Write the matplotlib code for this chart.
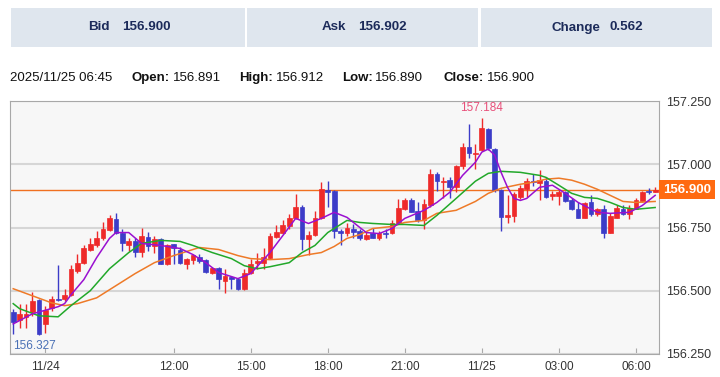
import numpy as np
import matplotlib.pyplot as plt
from matplotlib.patches import Rectangle

# ---------------------------
# DATA: 15-minute candles (bar index 0 .. 100), last bar = 2025/11/25 06:45
# ---------------------------
opens = [156.417, 156.385, 156.397, 156.417, 156.464, 156.369, 156.433, 156.468, 156.468, 156.484,
         156.580, 156.611, 156.663, 156.679, 156.707, 156.742, 156.782, 156.730, 156.679, 156.695,
         156.655, 156.714, 156.675, 156.703, 156.607, 156.683, 156.663, 156.607, 156.623, 156.635,
         156.623, 156.572, 156.591, 156.540, 156.556, 156.548, 156.508, 156.572, 156.611, 156.611,
         156.631, 156.714, 156.730, 156.754, 156.786, 156.833, 156.703, 156.722, 156.786, 156.897,
         156.893, 156.738, 156.730, 156.746, 156.738, 156.703, 156.730, 156.710, 156.730, 156.730,
         156.766, 156.825, 156.857, 156.814, 156.778, 156.837, 156.960, 156.929, 156.937, 156.909,
         156.992, 157.067, 157.040, 157.056, 157.139, 157.060, 156.897, 156.790, 156.794, 156.869,
         156.901, 156.933, 156.925, 156.933, 156.873, 156.873, 156.889, 156.857, 156.825, 156.786,
         156.849, 156.802, 156.825, 156.730, 156.786, 156.825, 156.802, 156.825, 156.853, 156.893,
         156.891]
highs = [156.429, 156.449, 156.449, 156.496, 156.468, 156.441, 156.480, 156.603, 156.508, 156.603,
         156.647, 156.679, 156.710, 156.738, 156.770, 156.798, 156.806, 156.746, 156.710, 156.707,
         156.750, 156.734, 156.718, 156.707, 156.683, 156.685, 156.671, 156.631, 156.647, 156.647,
         156.627, 156.595, 156.595, 156.584, 156.560, 156.552, 156.587, 156.627, 156.651, 156.667,
         156.730, 156.758, 156.778, 156.802, 156.881, 156.837, 156.738, 156.814, 156.929, 156.933,
         156.897, 156.746, 156.766, 156.762, 156.746, 156.738, 156.750, 156.738, 156.746, 156.778,
         156.861, 156.865, 156.865, 156.849, 156.861, 156.980, 156.968, 156.948, 156.948, 156.996,
         157.083, 157.159, 157.079, 157.184, 157.143, 157.064, 156.901, 156.877, 156.889, 156.917,
         156.945, 156.960, 156.976, 156.948, 156.893, 156.897, 156.893, 156.865, 156.849, 156.849,
         156.877, 156.829, 156.837, 156.806, 156.837, 156.837, 156.837, 156.865, 156.893, 156.905,
         156.912]
lows = [156.330, 156.353, 156.353, 156.401, 156.327, 156.333, 156.421, 156.460, 156.460, 156.480,
        156.572, 156.607, 156.659, 156.671, 156.699, 156.738, 156.726, 156.659, 156.659, 156.635,
        156.635, 156.659, 156.651, 156.607, 156.603, 156.607, 156.607, 156.587, 156.607, 156.611,
        156.572, 156.568, 156.508, 156.492, 156.508, 156.504, 156.504, 156.568, 156.587, 156.587,
        156.627, 156.707, 156.726, 156.746, 156.782, 156.663, 156.643, 156.718, 156.782, 156.833,
        156.710, 156.679, 156.718, 156.707, 156.699, 156.699, 156.707, 156.699, 156.710, 156.726,
        156.762, 156.818, 156.810, 156.770, 156.746, 156.833, 156.893, 156.865, 156.865, 156.889,
        156.980, 157.024, 156.980, 157.052, 157.056, 156.889, 156.738, 156.766, 156.770, 156.861,
        156.869, 156.913, 156.857, 156.865, 156.857, 156.837, 156.849, 156.818, 156.786, 156.786,
        156.794, 156.794, 156.710, 156.728, 156.786, 156.798, 156.782, 156.822, 156.849, 156.881,
        156.890]
closes = [156.377, 156.409, 156.409, 156.460, 156.329, 156.425, 156.468, 156.464, 156.484, 156.584,
          156.611, 156.667, 156.683, 156.707, 156.746, 156.786, 156.730, 156.687, 156.695, 156.655,
          156.718, 156.675, 156.703, 156.607, 156.679, 156.667, 156.611, 156.627, 156.643, 156.619,
          156.576, 156.591, 156.548, 156.560, 156.548, 156.508, 156.572, 156.607, 156.619, 156.635,
          156.718, 156.734, 156.758, 156.786, 156.833, 156.703, 156.722, 156.786, 156.901, 156.889,
          156.738, 156.730, 156.750, 156.734, 156.707, 156.722, 156.710, 156.730, 156.726, 156.766,
          156.829, 156.857, 156.810, 156.778, 156.841, 156.960, 156.933, 156.933, 156.909, 156.992,
          157.067, 157.044, 157.044, 157.143, 157.064, 156.897, 156.790, 156.798, 156.881, 156.905,
          156.933, 156.929, 156.937, 156.869, 156.881, 156.889, 156.853, 156.822, 156.786, 156.845,
          156.802, 156.825, 156.730, 156.794, 156.829, 156.802, 156.829, 156.857, 156.889, 156.889,
          156.900]

# moving averages at selected bars
ma_fast_x = [0, 3, 7, 8, 9, 11, 13, 15, 16, 18, 20, 23, 26, 28, 30, 32, 35, 37, 40, 42, 44, 46, 48,
             50, 52, 53, 55, 57, 59, 61, 64, 66, 68, 70, 72, 73, 74, 75, 76, 77, 78, 79, 80, 82, 84,
             86, 88, 91, 93, 96, 98, 100]
ma_fast_y = [156.369, 156.409, 156.437, 156.449, 156.484, 156.544, 156.631, 156.707, 156.730, 156.730,
             156.687, 156.679, 156.667, 156.643, 156.611, 156.572, 156.548, 156.568, 156.651, 156.718,
             156.786, 156.766, 156.786, 156.810, 156.790, 156.770, 156.730, 156.726, 156.746, 156.786,
             156.818, 156.849, 156.889, 156.956, 157.008, 157.048, 157.060, 157.036, 156.968, 156.909,
             156.865, 156.857, 156.865, 156.909, 156.917, 156.885, 156.849, 156.810, 156.806, 156.810,
             156.837, 156.877]
ma_mid_x = [0, 1, 4, 7, 9, 12, 15, 18, 20, 23, 26, 28, 31, 34, 36, 38, 40, 43, 45, 47, 49, 52, 54,
            56, 59, 61, 64, 66, 69, 72, 74, 76, 79, 82, 83, 85, 87, 89, 91, 93, 95, 97, 100]
ma_mid_y = [156.449, 156.429, 156.401, 156.397, 156.441, 156.500, 156.587, 156.651, 156.687, 156.699,
            156.695, 156.679, 156.651, 156.627, 156.599, 156.587, 156.595, 156.611, 156.651, 156.679,
            156.730, 156.778, 156.770, 156.766, 156.762, 156.762, 156.758, 156.798, 156.865, 156.933,
            156.964, 156.972, 156.968, 156.956, 156.948, 156.917, 156.885, 156.869, 156.865, 156.849,
            156.829, 156.822, 156.829]
ma_slow_x = [0, 3, 6, 8, 10, 13, 16, 19, 22, 25, 27, 29, 32, 35, 37, 40, 43, 46, 48, 50, 52, 54, 56,
             59, 61, 64, 66, 69, 72, 74, 76, 79, 81, 83, 85, 87, 89, 91, 93, 95, 97, 100]
ma_slow_y = [156.508, 156.480, 156.452, 156.441, 156.449, 156.472, 156.520, 156.568, 156.611, 156.639,
             156.655, 156.671, 156.663, 156.639, 156.627, 156.623, 156.627, 156.643, 156.651, 156.675,
             156.707, 156.722, 156.746, 156.754, 156.770, 156.778, 156.806, 156.818, 156.853, 156.885,
             156.905, 156.921, 156.929, 156.941, 156.945, 156.937, 156.921, 156.901, 156.877, 156.853,
             156.849, 156.853]

tick_pos = [5, 25, 37, 49, 61, 73, 85, 97]
tick_labels = ["11/24", "12:00", "15:00", "18:00", "21:00", "11/25", "03:00", "06:00"]
y_ticks = [156.25, 156.50, 156.75, 157.00, 157.25]

bid, ask, change = "156.900", "156.902", "0.562"
stamp = "2025/11/25 06:45"

# ---------------------------
# FIGURE
# ---------------------------
plt.rcParams['font.family'] = ['Liberation Sans', 'DejaVu Sans']
fig = plt.figure(figsize=(7.2, 3.77), dpi=100)
W, H = 720, 377

# header boxes
navy = "#1c2b5a"
for (x0, x1) in [(11, 245), (247, 478), (481, 712)]:
    fig.patches.append(Rectangle((x0 / W, 1 - 47 / H), (x1 - x0) / W, 39 / H,
                                 transform=fig.transFigure, fc="#dfe6ee", ec="none"))
hy = 1 - 27.5 / H
for name, val, xn, xv in [("Bid", bid, 88, 122), ("Ask", ask, 322, 358), ("Change", change, 551, 610)]:
    fig.text(xn / W, hy, name, ha="left", va="center", fontsize=9.6, fontweight="bold", color=navy)
    fig.text(xv / W, hy, val, ha="left", va="center", fontsize=9.6, fontweight="bold", color=navy)

# OHLC line
oy = 1 - 78 / H
parts = [(10, stamp, "normal"), (131, "Open:", "bold"), (173, f"{opens[-1]:.3f}", "normal"),
         (239, "High:", "bold"), (276, f"{highs[-1]:.3f}", "normal"),
         (342, "Low:", "bold"), (375, f"{lows[-1]:.3f}", "normal"),
         (443, "Close:", "bold"), (487, f"{closes[-1]:.3f}", "normal")]
for x, s, w in parts:
    fig.text(x / W, oy, s, ha="left", va="center", fontsize=9.5, fontweight=w, color="#111111")

# chart
ax = fig.add_axes([10 / W, 23 / H, 649 / W, 253 / H])
ax.set_facecolor("#f7f7f7")

o = np.array(opens); h = np.array(highs); l = np.array(lows); c = np.array(closes)
x = np.arange(len(c))
up = c >= o
col = np.where(up, "#ee2a2a", "#3c3cc8")

ax.vlines(x, l, h, colors=col, linewidth=1, zorder=3)
body_bottom = np.minimum(o, c)
body_h = np.maximum(np.abs(c - o), 0.0018)
ax.bar(x, body_h, bottom=body_bottom, width=0.74, color=col, edgecolor=col, linewidth=0.5, zorder=4)

ax.plot(ma_slow_x, ma_slow_y, color="#ee7a28", lw=1.1, zorder=5)
ax.plot(ma_mid_x, ma_mid_y, color="#22a82a", lw=1.1, zorder=5)
ax.plot(ma_fast_x, ma_fast_y, color="#9a10d0", lw=1.1, zorder=5)

# current price line + label
last = closes[-1]
ax.axhline(last, color="#f07020", lw=1, zorder=2)
ax.annotate(f"{last:.3f}", xy=(1, last), xycoords=("axes fraction", "data"),
            xytext=(3, 0), textcoords="offset points", ha="left", va="center",
            fontsize=9.5, fontweight="bold", color="white", annotation_clip=False,
            bbox=dict(boxstyle="square,pad=0.28", fc="#ff6a10", ec="none"))

# high / low markers
ih = int(np.argmax(h))
ax.annotate(f"{h[ih]:.3f}", xy=(ih, h[ih]), xytext=(0, 3), textcoords="offset points",
            ha="center", va="bottom", fontsize=8.5, color="#e8507a", zorder=6)
ax.text(0.004, 0.032, f"{l.min():.3f}", transform=ax.transAxes, ha="left", va="center",
        fontsize=8.5, color="#4a70b5", zorder=6)

ax.set_xlim(-0.5, 100.6)
ax.set_ylim(156.25, 157.25)
ax.set_xticks(tick_pos)
ax.set_xticklabels(tick_labels)
ax.tick_params(axis="x", direction="in", length=4, color="#aaaaaa", labelcolor="#333333",
               labelsize=8.5, pad=5)
ax.yaxis.tick_right()
ax.set_yticks(y_ticks)
ax.set_yticklabels([f"{v:.3f}" for v in y_ticks])
ax.tick_params(axis="y", length=0, labelcolor="#333333", labelsize=9, pad=5)
ax.yaxis.grid(True, color="#d6d6d6", lw=1.5, zorder=0)
ax.set_axisbelow(True)
for s in ax.spines.values():
    s.set_color("#a8a8a8")

fig.savefig("out.png", dpi=100)
